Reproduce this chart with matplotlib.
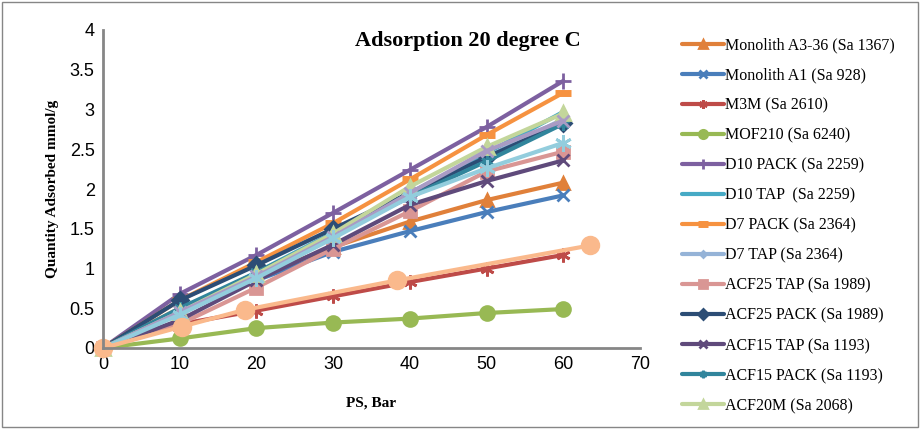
import numpy as np
import matplotlib.pyplot as plt
from matplotlib.patches import Rectangle

# pressure points (bar)
ps = [0, 10, 20, 30, 40, 50, 60]

mono_a336 = [0, 0.50, 0.90, 1.27, 1.59, 1.86, 2.08]
mono_a1 = [0, 0.45, 0.85, 1.21, 1.47, 1.71, 1.92]
m3m = [0, 0.30, 0.47, 0.65, 0.83, 1.00, 1.17]
mof210 = [0, 0.12, 0.25, 0.32, 0.37, 0.44, 0.49]
d10_pack = [0, 0.68, 1.17, 1.70, 2.24, 2.78, 3.36]
d10_tap = [0, 0.45, 0.95, 1.45, 1.95, 2.45, 2.97]
d7_pack = [0, 0.60, 1.08, 1.57, 2.12, 2.68, 3.21]
d7_tap = [0, 0.45, 0.92, 1.40, 1.92, 2.40, 2.88]
acf25_tap = [0, 0.30, 0.76, 1.25, 1.72, 2.22, 2.47]
acf25_pack = [0, 0.60, 1.04, 1.50, 1.95, 2.40, 2.83]
acf15_tap = [0, 0.35, 0.85, 1.30, 1.80, 2.10, 2.36]
acf15_pack = [0, 0.50, 0.95, 1.42, 1.90, 2.35, 2.82]
acf20m = [0, 0.45, 0.93, 1.44, 2.03, 2.53, 2.95]
extra_purple = [0, 0.45, 0.90, 1.40, 1.95, 2.48, 2.86]
extra_aqua = [0, 0.42, 0.88, 1.38, 1.90, 2.26, 2.58]
ps_peach = [0, 10.3, 18.5, 38.3, 63.5]
extra_peach = [0, 0.27, 0.48, 0.85, 1.29]

labels = ["Monolith A3-36 (Sa 1367)", "Monolith A1 (Sa 928)", "M3M (Sa 2610)",
          "MOF210 (Sa 6240)", "D10 PACK (Sa 2259)", "D10 TAP  (Sa 2259)",
          "D7 PACK (Sa 2364)", "D7 TAP (Sa 2364)", "ACF25 TAP (Sa 1989)",
          "ACF25 PACK (Sa 1989)", "ACF15 TAP (Sa 1193)", "ACF15 PACK (Sa 1193)",
          "ACF20M (Sa 2068)", "", "", ""]

asterisk = (6, 2, 0)
series = [
    (ps, mono_a336, '#E0803A', '^', 9),
    (ps, mono_a1, '#4A7EBB', 'x', 9),
    (ps, m3m, '#BE4B48', asterisk, 10),
    (ps, mof210, '#98B954', 'o', 10),
    (ps, d10_pack, '#7D60A0', '+', 12),
    (ps, d10_tap, '#46AAC5', 'None', 0),
    (ps, d7_pack, '#F69240', '_', 12),
    (ps, d7_tap, '#95B3D7', 'D', 5),
    (ps, acf25_tap, '#D99694', 's', 9),
    (ps, acf25_pack, '#2C4D75', 'D', 8),
    (ps, acf15_tap, '#5F4A7B', 'x', 9),
    (ps, acf15_pack, '#31859C', asterisk, 9),
    (ps, acf20m, '#C3D69B', '^', 10),
    (ps, extra_purple, '#A99BC4', 'x', 9),
    (ps, extra_aqua, '#93CDDD', asterisk, 12),
    (ps_peach, extra_peach, '#FAB98C', 'o', 12),
]

fig = plt.figure(figsize=(9.21, 4.33), dpi=100)
ax = fig.add_axes([103 / 921, 1 - 348 / 433, (640 - 103) / 921, (348 - 30) / 433])

handles = []
for (x, y, c, m, ms), lab in zip(series, labels):
    mew = 5 if m == '_' else 2
    h, = ax.plot(x, y, color=c, lw=3, marker=m, ms=ms, mfc=c, mec=c,
                 mew=mew, solid_capstyle='round', clip_on=False)
    handles.append(h)

ax.set_xlim(0, 70)
ax.set_ylim(0, 4)
ax.set_xticks(range(0, 71, 10))
ax.set_yticks(np.arange(0, 4.01, 0.5))
ax.set_yticklabels(['0', '0.5', '1', '1.5', '2', '2.5', '3', '3.5', '4'])
ax.tick_params(length=0, labelsize=13, pad=6)
for t in ax.get_xticklabels() + ax.get_yticklabels():
    t.set_fontfamily('Liberation Sans')
for s in ['top', 'right']:
    ax.spines[s].set_visible(False)
for s in ['left', 'bottom']:
    ax.spines[s].set_color('#868686')
    ax.spines[s].set_linewidth(2)

serif = 'Liberation Serif'
ax.set_title('Adsorption 20 degree C', fontfamily=serif, fontweight='bold',
             fontsize=16, x=0.68, y=0.925)
ax.set_xlabel('PS, Bar', fontfamily=serif, fontweight='bold', fontsize=11, labelpad=17)
ax.set_ylabel('Quantity Adsorbed mmol/g', fontfamily=serif, fontweight='bold',
              fontsize=11, labelpad=8)

fig.legend(handles[:13], labels[:13], loc='upper left',
           bbox_to_anchor=(668 / 921, 1 - 23 / 433), frameon=False,
           prop={'family': serif, 'size': 11.5}, handlelength=2.6,
           handletextpad=0.05, labelspacing=0.88, markerscale=0.6)

fig.patches.append(Rectangle((0.002, 0.015), 0.995, 0.98, transform=fig.transFigure,
                             fill=False, edgecolor='#868686', lw=1))

fig.savefig('out.png', dpi=100)
